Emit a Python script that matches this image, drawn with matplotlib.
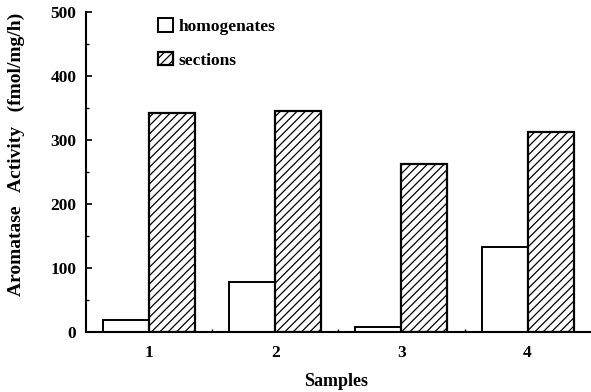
import numpy as np
import matplotlib
matplotlib.use('Agg')
import matplotlib.pyplot as plt

# data
samples = ['1', '2', '3', '4']
homogenates = [19, 78, 8, 133]
sections = [342, 345, 262, 312]

plt.rcParams['font.family'] = ['Liberation Serif', 'DejaVu Serif']
plt.rcParams['font.weight'] = 'bold'
plt.rcParams['hatch.linewidth'] = 0.9

fig = plt.figure(figsize=(5.91, 3.92), dpi=100)
ax = fig.add_axes([0.1455, 0.153, 0.854, 0.816])

x = np.arange(1, len(samples) + 1)
w = 0.365
ax.bar(x - w / 2, homogenates, w, color='white', edgecolor='black', linewidth=1.4,
       label='homogenates')
ax.bar(x + w / 2, sections, w, color='white', edgecolor='black', linewidth=1.6,
       hatch='////', label='sections')

ax.set_xlim(0.5, 4.5)
ax.set_ylim(0, 500)
ax.set_yticks([0, 100, 200, 300, 400, 500])
ax.set_yticks([50, 150, 250, 350, 450], minor=True)
ax.set_xticks(x)
ax.set_xticklabels(samples)
ax.set_xticks([1.5, 2.5, 3.5], minor=True)
ax.tick_params(axis='both', which='major', direction='in', labelsize=12.5, width=1.2)
ax.tick_params(axis='x', which='major', length=0, pad=9)
ax.tick_params(axis='y', which='major', length=4, pad=7)
ax.tick_params(axis='both', which='minor', direction='in', length=2.5, width=1)
for lab in ax.get_xticklabels() + ax.get_yticklabels():
    lab.set_fontweight('bold')

ax.spines['top'].set_visible(False)
ax.spines['right'].set_visible(False)
ax.spines['left'].set_linewidth(1.5)
ax.spines['bottom'].set_linewidth(1.5)

# axis titles placed by hand to match the original layout
fig.text(0.028, 0.605, 'Aromatase   Activity   (fmol/mg/h)', rotation=90,
         ha='center', va='center', fontsize=14, fontweight='bold')
fig.text(0.568, 0.028, 'Samples', ha='center', va='center', fontsize=13, fontweight='bold')

ax.legend(loc='upper left', bbox_to_anchor=(0.112, 1.03), frameon=False, fontsize=12.5,
          handlelength=0.85, handleheight=0.85, handletextpad=0.35, labelspacing=0.95)

fig.savefig('out.png', dpi=100)
